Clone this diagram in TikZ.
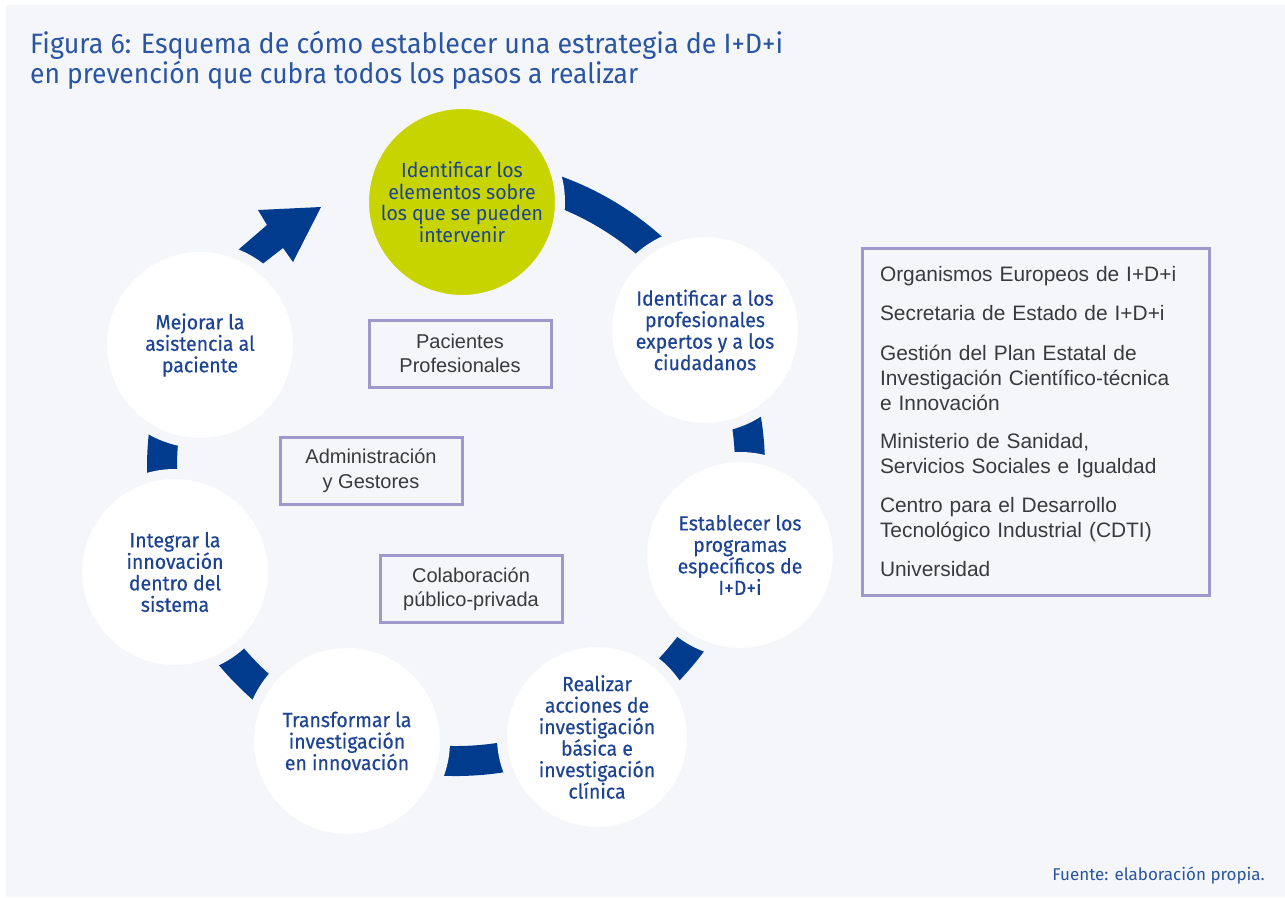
\documentclass[tikz,border=0pt]{standalone}
\usepackage{fontspec}
\usepackage{graphicx}
\setmainfont{Liberation Sans}
\newfontfamily\titlefont{Fira Sans}
\newfontfamily\stepfont[FakeStretch=0.95]{Fira Sans}
\newfontfamily\stepboldfont[FakeStretch=0.95,FakeBold=0.4]{Fira Sans}
\newfontfamily\boxfont{Liberation Sans}
\usetikzlibrary{positioning}

\definecolor{bgc}{HTML}{F4F6FA}
\definecolor{ringblue}{HTML}{003B8E}
\definecolor{stepblue}{HTML}{1D4394}
\definecolor{titleblue}{HTML}{2A55A3}
\definecolor{limec}{HTML}{C8D400}
\definecolor{boxc}{HTML}{9E99CC}
\definecolor{boxtext}{HTML}{3A3A3A}

\tikzset{
  stepcirc/.style={circle, fill=white, draw=bgc, line width=10pt, inner sep=0pt,
    minimum size=196pt, align=center, text=stepblue,
    font=\stepboldfont\fontsize{20.5}{21.5}\selectfont},
  actorbox/.style={draw=boxc, line width=3pt, minimum width=182pt, minimum height=67pt,
    align=center, text=boxtext, font=\boxfont\fontsize{20}{24.5}\selectfont},
  orgbox/.style={draw=boxc, line width=3pt, minimum width=347pt, minimum height=347pt,
    text width=311pt, inner xsep=18pt, align=left, text=boxtext,
    font=\boxfont\fontsize{20.9}{25}\selectfont},
  titletext/.style={anchor=base west, inner sep=0pt, text=titleblue,
    font=\titlefont\fontsize{28}{32}\selectfont}
}

\begin{document}
\begin{tikzpicture}[x=1pt,y=-1pt]
  % background
  \useasboundingbox (0,0) rectangle (1285,897);
  \fill[white] (0,0) rectangle (1285,897);
  \fill[bgc] (6,5) rectangle (1285,897);

  % title
  \node[titletext] (title1) at (30,53) {\resizebox{753pt}{\height}{Figura 6: Esquema de cómo establecer una estrategia de I+D+i}};
  \node[titletext] (title2) at (30,83) {\resizebox{608pt}{\height}{en prevención que cubra todos los pasos a realizar}};

  % ring of steps
  \draw[ringblue, line width=30pt] (456,467) ++(265:294) arc[start angle=265, end angle=570, radius=294];
  \fill[ringblue] (223,263) -- (267,225) -- (258,210) -- (321,207) -- (293,262) -- (283,248) -- (247,276) -- cycle;

  % steps
  \node[stepcirc, fill=limec, font=\stepfont\fontsize{20.5}{21.5}\selectfont] (ident) at (462,202)
    {Identificar los\\elementos sobre\\los que se pueden\\intervenir};
  \node[stepcirc] (expert) at (705,330) {Identificar a los\\profesionales\\expertos y a los\\ciudadanos};
  \node[stepcirc] (progr) at (740,555) {Establecer los\\programas\\específicos de\\I+D+i};
  \node[stepcirc, minimum size=190pt] (accion) at (597,737) {Realizar\\acciones de\\investigación\\básica e\\investigación\\clínica};
  \node[stepcirc] (transf) at (347,741) {Transformar la\\investigación\\en innovación};
  \node[stepcirc] (integr) at (175,572) {Integrar la\\innovación\\dentro del\\sistema};
  \node[stepcirc] (mejor) at (200,345) {Mejorar la\\asistencia al\\paciente};

  % actors
  \node[actorbox] (pacien) at (460,353.5) {Pacientes\\Profesionales};
  \node[actorbox] (admin) at (371,470.5) {Administración\\y Gestores};
  \node[actorbox] (colab) at (471,589) {Colaboración\\público-privada};

  % organisms
  \node[orgbox] (organ) at (1035.5,421.5) {Organismos Europeos de I+D+i\\[14.5pt]
    Secretaria de Estado de I+D+i\\[14.5pt]
    Gestión del Plan Estatal de\\Investigación Científico-técnica\\e Innovación\\[13pt]
    Ministerio de Sanidad,\\Servicios Sociales e Igualdad\\[14.5pt]
    Centro para el Desarrollo\\Tecnológico Industrial (CDTI)\\[14pt]
    Universidad};

  % source
  \node[anchor=base east, inner sep=0pt, text=titleblue, font=\titlefont\fontsize{17}{20}\selectfont] (fuente) at (1265,880) {Fuente: elaboración propia.};
\end{tikzpicture}
\end{document}
